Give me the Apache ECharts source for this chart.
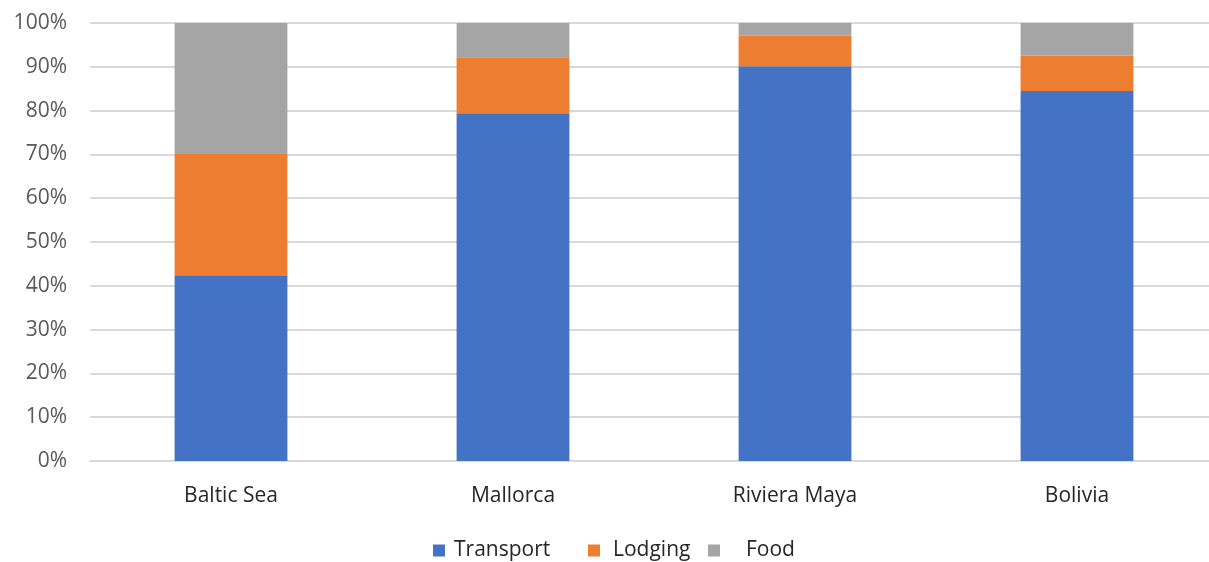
<!DOCTYPE html>
<html lang="en">
<head>
<meta charset="UTF-8">
<title>Trip cost breakdown</title>
<script src="https://cdn.jsdelivr.net/npm/echarts@6/dist/echarts.min.js"></script>
<style>
  html, body { margin: 0; padding: 0; background: #fff; }
  #chart { width: 1209px; height: 562px; }
</style>
</head>
<body>
<div id="chart"></div>
<script>
// data (percent of trip cost)
var destinations = ['Baltic Sea', 'Mallorca', 'Riviera Maya', 'Bolivia'];
var transport = [42.4, 79.4, 90.1, 84.5];
var lodging = [27.7, 12.8, 7.0, 8.1];
var food = [29.9, 7.8, 2.9, 7.4];
var seriesNames = ['Transport', 'Lodging', 'Food'];
var colors = ['#4472C4', '#ED7D31', '#A5A5A5'];

var font = '"Open Sans", "Noto Sans", sans-serif';
var chart = echarts.init(document.getElementById('chart'));

function bar(name, data) {
  return {
    name: name,
    type: 'bar',
    stack: 'total',
    barWidth: '40%',
    data: data
  };
}

// one legend per item so the uneven Excel spacing can be kept
function legendItem(name, left, gap) {
  return {
    left: left,
    top: 535,
    itemWidth: 12,
    itemHeight: 12,
    icon: 'rect',
    data: [name],
    formatter: '{n|{name}}',
    textStyle: {
      rich: { n: { fontFamily: font, fontSize: 21, color: '#262626', padding: [0, 0, 0, gap] } }
    }
  };
}

chart.setOption({
  animation: false,
  color: colors,
  grid: { left: 90, top: 23, width: 1128, height: 438, outerBoundsMode: 'none', containLabel: false },
  legend: [
    legendItem(seriesNames[0], 428, 4),
    legendItem(seriesNames[1], 583, 8),
    legendItem(seriesNames[2], 703, 21)
  ],
  xAxis: {
    type: 'category',
    data: destinations,
    axisTick: { show: false },
    axisLine: { lineStyle: { color: '#D9D9D9', width: 2 } },
    axisLabel: { fontFamily: font, fontSize: 21, color: '#262626', margin: 25 }
  },
  yAxis: {
    type: 'value',
    min: 0,
    max: 100,
    interval: 10,
    axisLine: { show: false },
    axisTick: { show: false },
    splitLine: { lineStyle: { color: '#D9D9D9', width: 2 } },
    axisLabel: {
      fontFamily: font, fontSize: 21, color: '#595959', margin: 23,
      formatter: function (v) { return v + '%'; }
    }
  },
  series: [
    bar(seriesNames[0], transport),
    bar(seriesNames[1], lodging),
    bar(seriesNames[2], food)
  ]
});
</script>
</body>
</html>
